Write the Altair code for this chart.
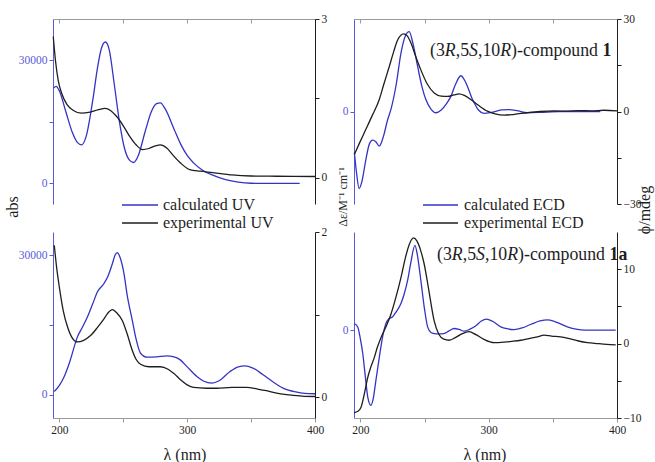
import altair as alt
import pandas as pd

# ---------------- data ----------------
tl_calc_wl = [195.5, 197.5, 200, 205, 210, 214, 217.5, 221, 226, 230, 233, 236, 239, 243, 247, 251, 254.5, 258, 262, 267, 272, 276, 279, 283, 290, 295, 300, 305, 312, 320, 330, 340, 350, 365, 388]
tl_calc_abs = [23200, 23600, 22500, 17500, 12500, 10000, 9400, 11500, 20000, 28500, 33000, 34400, 32500, 24000, 15000, 8500, 5800, 5100, 7000, 12500, 17500, 19400, 19600, 18000, 13000, 9500, 6800, 5000, 3200, 2000, 900, 300, 50, 0, 0]

tl_exp_wl = [195.2, 197, 199, 202, 206, 211, 217, 224, 230, 236, 240, 245, 250, 255, 260, 265, 270, 275, 279, 284, 289, 295, 302, 310, 320, 335, 350, 370, 400]
tl_exp_de = [2.67, 2.2, 1.85, 1.58, 1.38, 1.27, 1.22, 1.24, 1.28, 1.31, 1.27, 1.15, 0.98, 0.78, 0.62, 0.53, 0.55, 0.6, 0.62, 0.56, 0.42, 0.27, 0.15, 0.12, 0.095, 0.05, 0.03, 0.025, 0.02]

tr_calc_wl = [195.3, 197, 199, 201, 204.3, 207, 209.5, 212, 214.7, 218, 221, 224, 228, 231.6, 235, 238, 241, 244.6, 248, 251, 255, 258.8, 263, 267, 270.5, 274, 278.3, 282, 287.4, 292, 296.4, 302, 310, 316, 322, 330, 340, 355, 387]
tr_calc_de = [-13.3, -20, -25, -23, -15.5, -10.5, -9.3, -9.8, -11.2, -8, -3, 1, 9, 18.9, 24.5, 25.9, 22, 14.6, 8, 3.9, 0.8, -0.4, 0.5, 2.5, 4.9, 8.7, 11.6, 9.5, 3.9, 0.5, -0.6, -0.3, 0.5, 0.6, 0.3, -0.4, -0.3, 0, 0]

tr_exp_wl = [195.3, 199, 203, 209, 214.7, 218, 222.5, 226, 229, 233.7, 236.5, 239.4, 243, 247.1, 252, 257.5, 263, 268, 273, 277, 281, 286, 292, 299, 305, 312, 320, 330, 340, 351, 360, 370, 380, 390, 400]
tr_exp_mdeg = [-13.9, -10.5, -6.9, -1.5, 3.9, 8.5, 14.6, 19.5, 23.2, 25.2, 24.5, 22.2, 18, 13.5, 9, 6.0, 5.0, 4.9, 5.4, 5.7, 5.2, 3.9, 2, 0.1, -0.8, -1.2, -0.9, -0.4, 0, 0.2, 0.1, 0.3, 0.2, 0.4, 0.2]

bl_calc_wl = [196, 200, 203.8, 208, 214.2, 218, 222, 226, 229.8, 234.9, 238, 241.5, 243.5, 245.3, 247.5, 250.5, 253, 257, 260, 263.5, 268.7, 276, 284.3, 289, 294.6, 300, 307.6, 313, 319.3, 325, 333.5, 340, 345.2, 351, 359.4, 367, 375, 385, 392, 400]
bl_calc_abs = [710, 2000, 3920, 7000, 12500, 14500, 16780, 19500, 22140, 23930, 25500, 28220, 30000, 30580, 29500, 26080, 21500, 16070, 12000, 8930, 8080, 8150, 8360, 8200, 7500, 6000, 3920, 2900, 2500, 3000, 5000, 6000, 6210, 5800, 4290, 2800, 1430, 600, 300, 210]

bl_exp_wl = [196, 198, 199.9, 203, 206.4, 210, 214.2, 219, 224.6, 230, 234.9, 238, 241.5, 245, 249.2, 253, 257, 260, 263.5, 270, 279, 285, 289.4, 295, 300, 305, 315, 323.2, 335, 346.5, 355, 362, 370, 380, 390, 400]
bl_exp_de = [1.84, 1.55, 1.34, 1.05, 0.85, 0.72, 0.67, 0.69, 0.75, 0.85, 0.95, 1.02, 1.06, 1.02, 0.93, 0.77, 0.57, 0.46, 0.40, 0.37, 0.37, 0.34, 0.29, 0.21, 0.15, 0.12, 0.11, 0.11, 0.12, 0.12, 0.1, 0.08, 0.05, 0.03, 0.015, 0.01]

br_calc_wl = [195.2, 197.9, 200, 201.8, 204, 205.7, 208.2, 210, 212.1, 214, 216, 218, 219.9, 222, 225.1, 228, 231.6, 234, 236.8, 239, 242.5, 244.5, 247.1, 250, 252.4, 255, 257.5, 261, 265, 269, 273, 277, 280.8, 285, 290, 294, 298.3, 303, 309.4, 314, 319.7, 326, 333, 340, 345.7, 351, 356, 361.3, 368, 375, 399]
br_calc_de = [0.9, 0.44, -1.2, -3.1, -6.5, -8.95, -10.1, -9.2, -6.7, -4.5, -2.2, -0.3, 0.9, 1.5, 1.8, 2.5, 3.6, 4.8, 6.7, 8.8, 11.4, 10, 6.7, 2.8, 0.44, -0.3, -0.45, -0.5, -0.45, -0.1, 0.23, 0.1, -0.13, 0.1, 0.6, 1.2, 1.5, 1.2, 0.45, 0.2, 0.09, 0.3, 0.8, 1.25, 1.4, 1.2, 0.85, 0.45, 0.15, 0, 0]

br_exp_wl = [195.2, 198, 200.4, 203, 205.7, 208, 210.8, 213, 216, 220, 223.8, 227, 231.6, 235, 238, 241.5, 244, 247, 249.7, 253, 257.5, 261, 265, 269.2, 274, 279, 284.7, 290, 296, 304.2, 312, 318, 325, 333, 338, 343.1, 349, 356, 362, 370, 376.9, 385, 392, 399]
br_exp_mdeg = [-9.26, -9.1, -8.6, -6.8, -4.56, -3.2, -1.88, -0.6, 0.8, 2.3, 3.95, 5.8, 8.86, 11.5, 13.3, 14.2, 13.8, 12.5, 10.7, 7.5, 3.05, 1.3, 0.6, 0.45, 0.8, 1.3, 1.6, 1.2, 0.6, 0.13, 0.2, 0.3, 0.45, 0.75, 0.9, 1.13, 1.0, 0.9, 0.7, 0.35, 0.13, 0, -0.1, -0.17]

x_domain = [195, 400]
x_ticks = [200, 250, 300, 350, 400]
x_labels = [200, 300, 400]

legend_uv = ["calculated UV", "experimental UV"]
legend_ecd = ["calculated ECD", "experimental ECD"]

# ---------------- style / layout ----------------
BLUE = "#3434c4"
BLUE_AX = "#5a5ad8"
BLACK = "#1e1e1e"
GRAY = "#9a9a9a"
FONT = "Liberation Serif"
W, H = 655, 462

XL = [53, 315]
XR = [354, 617]
YT = [204, 19]
YB = [418, 232]


def lab_expr(labeled):
    cond = " || ".join(f"datum.value == {v}" for v in labeled)
    return f"({cond}) ? datum.label : ''"


def y_axis(orient, pos_x, values, labeled, dom_color, lab_color):
    offset = -pos_x if orient == "left" else pos_x - W
    return alt.Axis(orient=orient, offset=offset, values=values, labelExpr=lab_expr(labeled),
                    format="d", title=None, grid=False, domainColor=dom_color, tickColor=dom_color,
                    labelColor=lab_color, labelFont=FONT, labelFontSize=11.5, tickSize=4,
                    labelPadding=2, labelFlush=False, labelOverlap=False, labelBound=False,
                    domainWidth=1, tickWidth=1)


def x_axis(pos_y, labels):
    kw = dict(orient="bottom", offset=pos_y - H, values=x_ticks, title=None, grid=False,
              domainColor=GRAY, tickColor=GRAY, tickSize=4, labelFlush=False, labelOverlap=False,
              domainWidth=1, tickWidth=1)
    if labels:
        kw.update(labelExpr=lab_expr(x_labels), labelColor=BLACK, labelFont=FONT,
                  labelFontSize=11.5, labelPadding=2, format="d")
    else:
        kw.update(labels=False)
    return alt.Axis(**kw)


def line(wl, val, color, xrange, xaxis, ydomain, yrange, yaxis):
    df = pd.DataFrame({"wl": wl, "v": val})
    xenc = alt.X("wl:Q", scale=alt.Scale(domain=x_domain, range=xrange, nice=False, zero=False))
    xenc = xenc.axis(xaxis) if xaxis is not False else xenc.axis(None)
    return alt.Chart(df).mark_line(color=color, strokeWidth=1.3, interpolate="monotone").encode(
        x=xenc,
        y=alt.Y("v:Q", scale=alt.Scale(domain=ydomain, range=yrange, nice=False, zero=False), axis=yaxis),
    )


layers = [
    # top-left
    line(tl_calc_wl, tl_calc_abs, BLUE, XL, x_axis(19, False), [-5000, 40000], YT,
         y_axis("left", 53, [0, 15000, 30000], [0, 30000], BLUE_AX, BLUE_AX)),
    line(tl_exp_wl, tl_exp_de, BLACK, XL, False, [-0.5, 3], YT,
         y_axis("right", 315, [0, 1.5, 3], [0, 3], BLACK, BLACK)),
    # top-right
    line(tr_calc_wl, tr_calc_de, BLUE, XR, x_axis(19, False), [-30, 30], YT,
         y_axis("left", 354, [0], [0], BLUE_AX, BLUE_AX)),
    line(tr_exp_wl, tr_exp_mdeg, BLACK, XR, False, [-30, 30], YT,
         y_axis("right", 617, [-30, -15, 0, 15, 30], [-30, 0, 30], BLACK, BLACK)),
    # bottom-left
    line(bl_calc_wl, bl_calc_abs, BLUE, XL, x_axis(418, True), [-5000, 35000], YB,
         y_axis("left", 53, [0, 15000, 30000], [0, 30000], BLUE_AX, BLUE_AX)),
    line(bl_exp_wl, bl_exp_de, BLACK, XL, False, [-0.25, 2], YB,
         y_axis("right", 315, [0, 1, 2], [0, 2], BLACK, BLACK)),
    # bottom-right
    line(br_calc_wl, br_calc_de, BLUE, XR, x_axis(418, True), [-11.8, 13.2], YB,
         y_axis("left", 354, [0], [0], BLUE_AX, BLUE_AX)),
    line(br_exp_wl, br_exp_mdeg, BLACK, XR, False, [-10, 15], YB,
         y_axis("right", 617, [-10, -5, 0, 5, 10], [-10, 0, 10], BLACK, BLACK)),
]

dummy = pd.DataFrame({"a": [0]})


def text(t, x, y, size, angle=0, align="left", baseline="middle", style="normal",
         weight="normal", color=BLACK):
    mk = dict(text=t, font=FONT, fontSize=size, align=align, baseline=baseline,
              fontStyle=style, fontWeight=weight, color=color)
    if angle:
        mk["angle"] = angle
    return alt.Chart(dummy).mark_text(**mk).encode(x=alt.value(x), y=alt.value(y))


def rule(x1, x2, y, color):
    return alt.Chart(dummy).mark_rule(color=color, strokeWidth=1.3).encode(
        x=alt.value(x1), x2=alt.value(x2), y=alt.value(y))


# axis titles
layers += [
    text("abs", 13, 207, 16, angle=270, align="center"),
    text("Δε/M⁻¹ cm⁻¹", 343, 197, 12, angle=270, align="center"),
    text("ϕ/mdeg", 645, 210, 16, angle=270, align="center"),
    text("λ (nm)", 185, 455, 16, align="center"),
    text("λ (nm)", 485, 455, 16, align="center"),
]

# legends
layers += [
    rule(122, 158, 205, BLUE), text(legend_uv[0], 163, 205, 16),
    rule(122, 158, 223, BLACK), text(legend_uv[1], 163, 223, 16),
    rule(423, 458, 205, BLUE), text(legend_ecd[0], 464, 205, 16),
    rule(423, 458, 223, BLACK), text(legend_ecd[1], 464, 223, 16),
]

# compound labels with mixed italic / bold (Times-metric advance widths, per 1000 em)
TW = {"(": 333, ")": 333, "3": 500, "5": 500, "1": 500, "0": 500, ",": 250, "-": 333,
      "c": 444, "o": 500, "m": 778, "p": 500, "u": 500, "n": 500, "d": 500, " ": 250,
      "R": 611, "S": 500, "a": 500}


def rich(segments, x0, y, size):
    out = []
    x = x0
    for s, style, weight in segments:
        out.append(text(s, x, y, size, baseline="alphabetic", style=style, weight=weight))
        x += sum(TW.get(ch, 500) for ch in s) * size / 1000.0
    return out


def compound_segments(num):
    return [("(3", "normal", "normal"), ("R", "italic", "normal"), (",5", "normal", "normal"),
            ("S", "italic", "normal"), (",10", "normal", "normal"), ("R", "italic", "normal"),
            (")-compound ", "normal", "normal"), (num, "normal", "bold")]


layers += rich(compound_segments("1"), 430, 56, 17.8)
layers += rich(compound_segments("1a"), 437, 260, 17.8)

chart = alt.layer(*layers).resolve_scale(x="independent", y="independent").properties(
    width=W, height=H, autosize=alt.AutoSizeParams(type="none"), padding=0,
    background="white",
).configure_view(stroke="transparent")

chart.save("out.html", embed_options={"renderer": "svg", "actions": False})
